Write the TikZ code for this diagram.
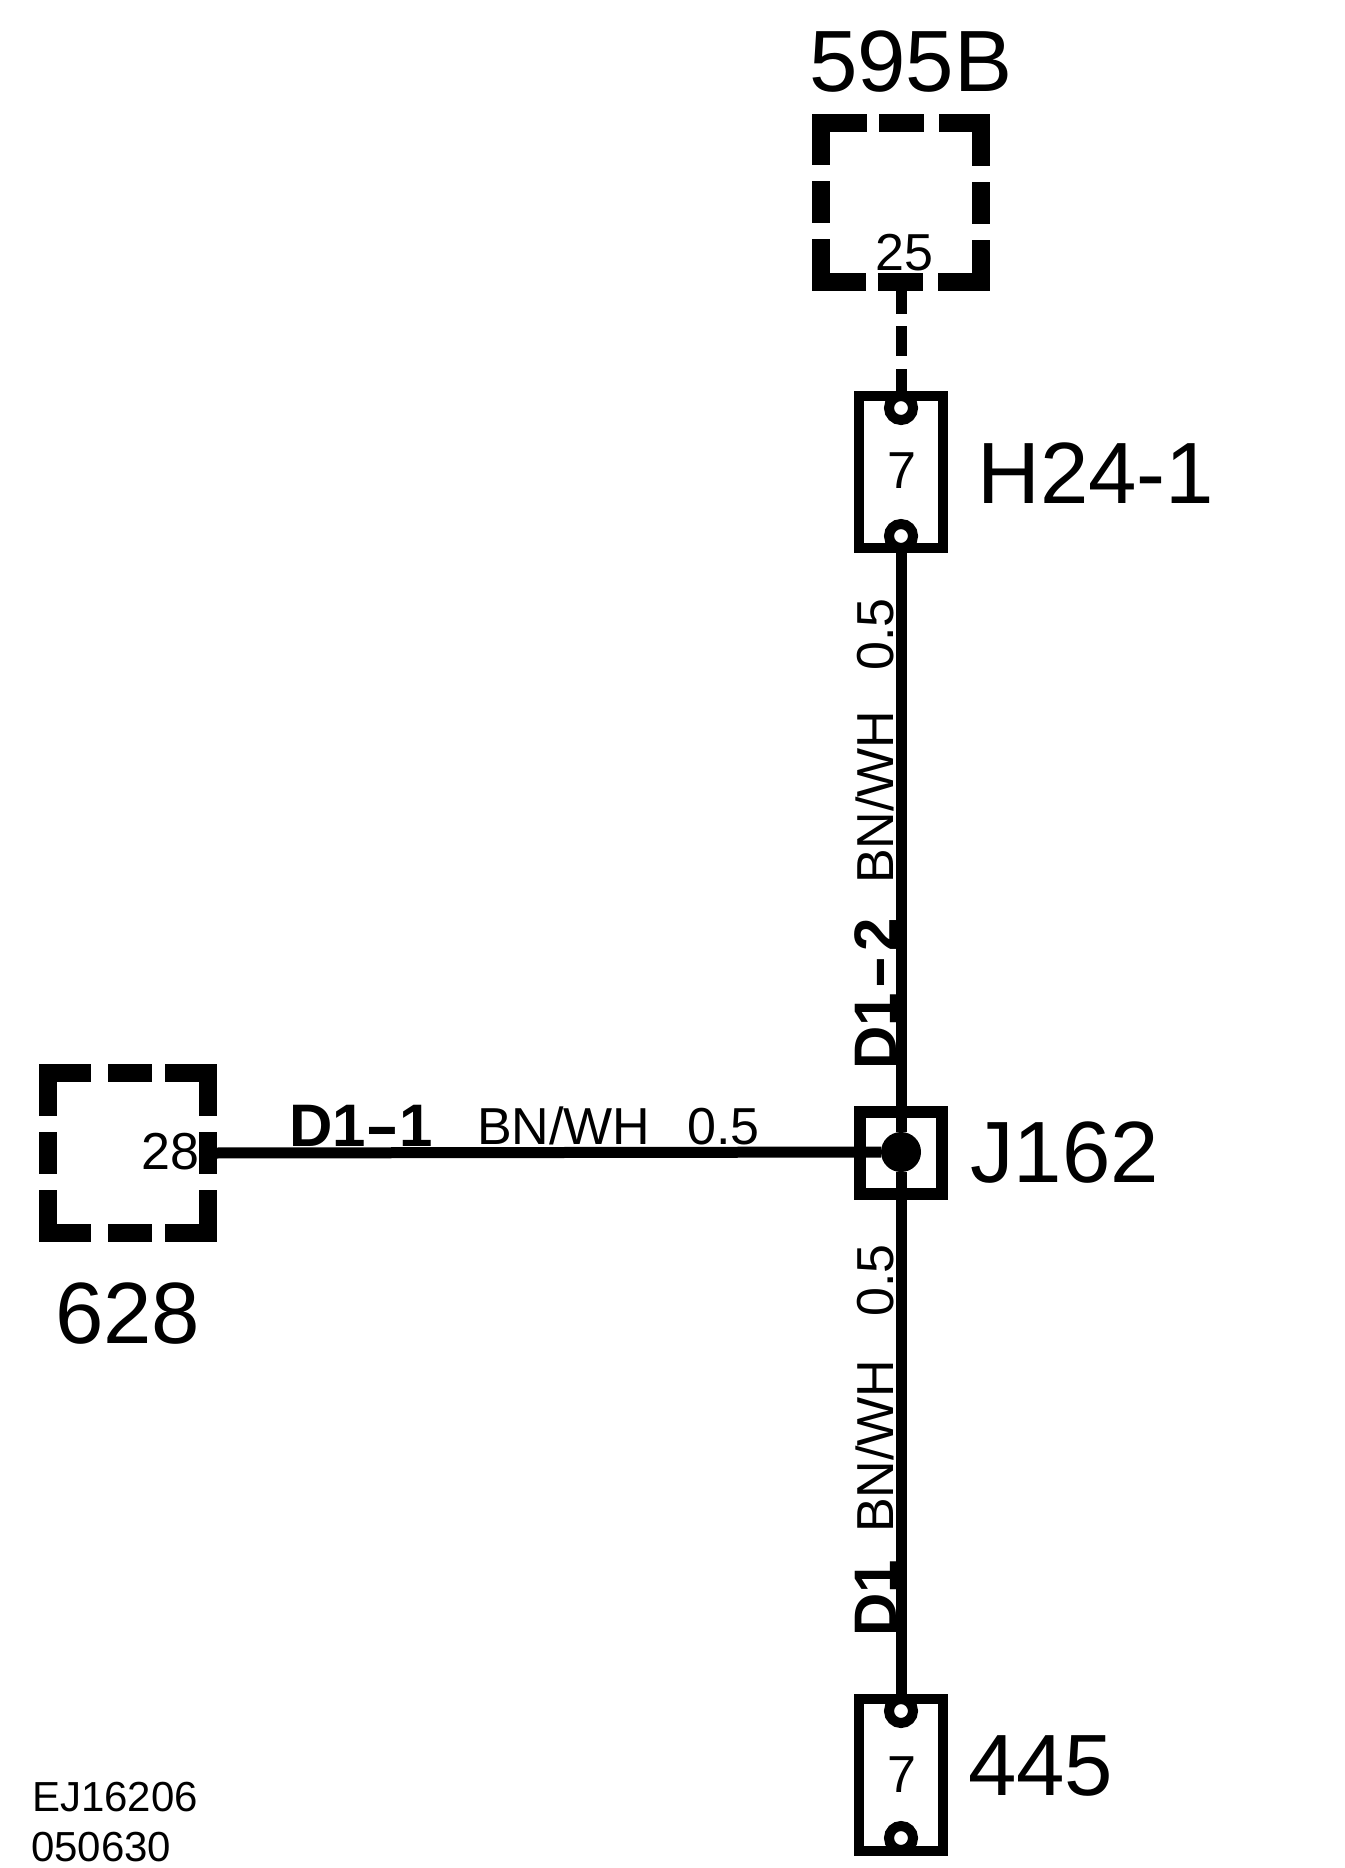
\documentclass[tikz,border=0pt]{standalone}
\usepackage{fontspec}
\setmainfont{Liberation Sans}
\usetikzlibrary{positioning}
\newcommand{\longhyphen}{\scalebox{1.7}[1.0]{-}}
\tikzstyle{unittop} = [rectangle, draw=black, line width=18pt, line cap=rect, inner sep=0pt, outer sep=0pt, minimum width=160pt, minimum height=159pt, dash pattern=on 35.5pt off 30.5pt on 27pt off 33pt on 67pt off 34pt on 24pt off 34pt on 67pt off 33pt on 27pt off 30.5pt on 69.5pt off 34pt on 24pt off 34pt on 34pt off 1pt]
\tikzstyle{unitleft} = [rectangle, draw=black, line width=18pt, line cap=rect, inner sep=0pt, outer sep=0pt, minimum width=160pt, minimum height=160pt, dash pattern=on 34pt off 35pt on 26pt off 31pt on 68pt off 34pt on 24pt off 34pt on 68pt off 31pt on 26pt off 35pt on 68pt off 34pt on 24pt off 34pt on 34pt off 1pt]
\tikzstyle{connector} = [rectangle, draw=black, line width=10pt, inner sep=0pt, outer sep=0pt, minimum width=84pt, minimum height=152pt]
\tikzstyle{splice} = [rectangle, draw=black, line width=12pt, inner sep=0pt, outer sep=0pt, minimum width=82pt, minimum height=82pt]
\tikzstyle{terminal} = [circle, draw=black, fill=white, line width=10pt, inner sep=0pt, outer sep=0pt, minimum size=24pt]
\tikzstyle{joint} = [circle, fill=black, inner sep=0pt, outer sep=0pt, minimum size=40pt]
\tikzstyle{wire} = [line width=11pt]
\tikzstyle{biglabel} = [anchor=base west, inner sep=0pt, font=\fontsize{87}{87}\selectfont]
\tikzstyle{pinlabel} = [anchor=base west, inner sep=0pt, font=\fontsize{52}{52}\selectfont]
\tikzstyle{wirelabel} = [anchor=base west, inner sep=0pt, font=\fontsize{52}{52}\selectfont]
\tikzstyle{wirename} = [anchor=base west, inner sep=0pt, font=\fontsize{60}{60}\selectfont\bfseries]
\tikzstyle{footlabel} = [anchor=base west, inner sep=0pt, font=\fontsize{42}{42}\selectfont]

\begin{document}
\begin{tikzpicture}[x=1pt, y=-1pt]
    \useasboundingbox (0,0) rectangle (1344,1868);

    \node (unit595) [unittop] at (901,202.5) {};
    \node (unit628) [unitleft] at (128,1153) {};
    \node (h241) [connector] at (901,472) {};
    \node (j162) [splice] at (901,1153) {};
    \node (c445) [connector] at (901,1775) {};
    \node (dot162) [joint] at (901,1152) {};

    \draw [wire, dash pattern=on 32pt off 12pt on 30pt off 13pt on 27pt off 0pt] (unit595.south) -- (h241.north);
    \draw [wire] (h241.south) -- (dot162);
    \draw [wire] (dot162) -- (c445.north);
    \draw [wire] (unit628.east) -- (dot162);

    \node (h241top) [terminal] at (901,408) {};
    \node (h241bot) [terminal] at (901,536) {};
    \node (c445top) [terminal] at (901,1711) {};
    \node (c445bot) [terminal] at (901,1838) {};

    \node (name595) [biglabel] at (809,92) {595B};
    \node (nameh241) [biglabel] at (977,503) {H24-1};
    \node (namej162) [biglabel] at (970,1182) {J162};
    \node (name445) [biglabel] at (968,1795) {445};
    \node (name628) [biglabel] at (55,1343) {628};

    \node (pin25) [pinlabel] at (875,270) {25};
    \node (pin28) [pinlabel] at (141,1169) {28};
    \node (pin7a) [pinlabel, anchor=base] at (902,488) {7};
    \node (pin7b) [pinlabel, anchor=base] at (902,1792) {7};

    \node (d1a) [wirename] at (289,1146) {D1\longhyphen 1};
    \node (spec1) [wirelabel] at (477,1144) {BN/WH\hspace{37pt}0.5};
    \node (d1b) [wirename, rotate=90] at (896,1070) {D1\kern4pt\longhyphen\kern4pt 2};
    \node (spec2) [wirelabel, rotate=90] at (893,884) {BN/WH\hspace{40pt}0.5};
    \node (d1c) [wirename, rotate=90] at (896,1637) {D1};
    \node (spec3) [wirelabel, rotate=90] at (893,1533) {BN/WH\hspace{43pt}0.5};

    \node (code1) [footlabel] at (32,1811) {EJ16206};
    \node (code2) [footlabel] at (31,1861) {050630};
\end{tikzpicture}
\end{document}
